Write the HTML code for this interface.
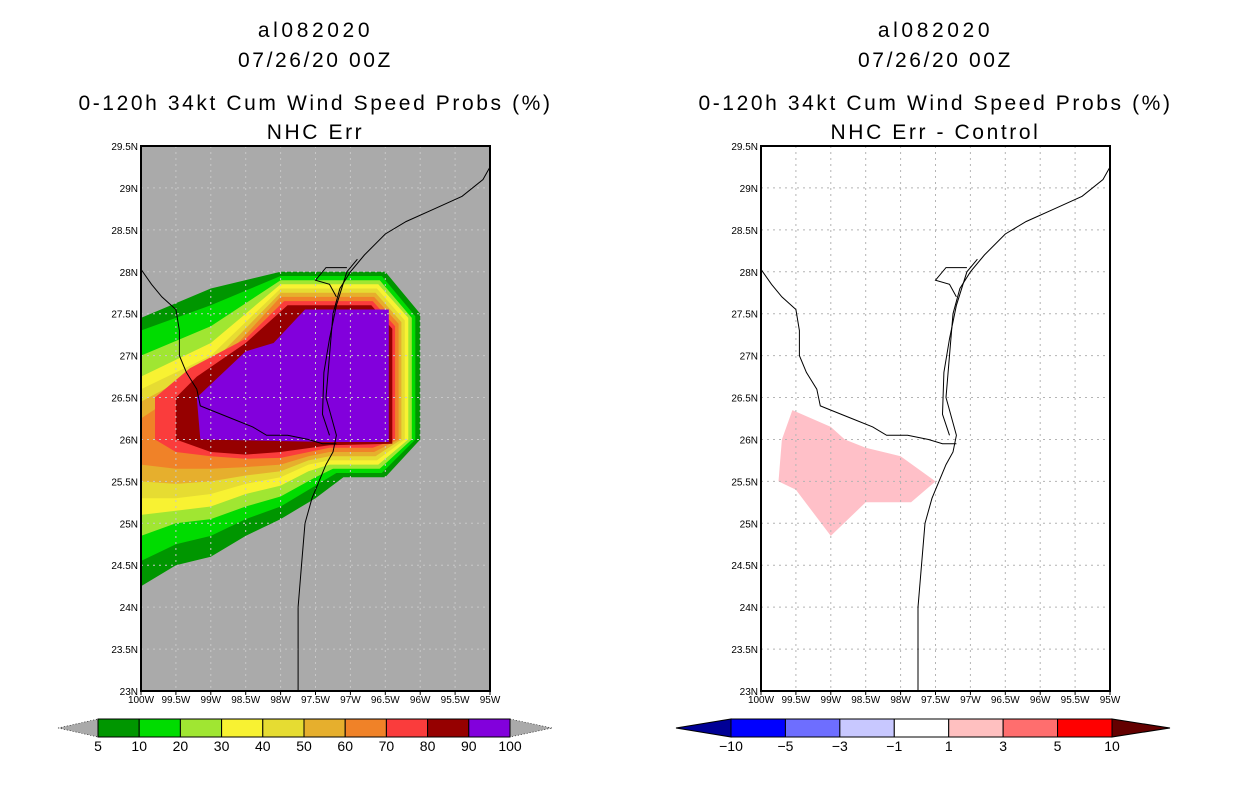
<!DOCTYPE html>
<html><head><meta charset="utf-8"><style>
body{margin:0;background:#fff;width:1236px;height:800px;overflow:hidden;font-family:"Liberation Sans",sans-serif}
svg{display:block}
</style></head><body>
<svg id="s" width="1236" height="800" font-family="Liberation Sans, sans-serif"></svg>
<script>
const levels=[5,10,20,30,40,50,60,70,80,90,100];
const levelColors=['#009600','#00dc00','#a0e632','#f8f232','#e6dc32','#e6af2d','#f08228','#fa3c3c','#960000','#8200dc'];
// contour polygons (lon W, lat N) for thresholds 5..90
const contour5=[[100,27.45],[99,27.8],[98,28.0],[96.5,28.0],[96,27.5],[96,26.0],[96.5,25.55],[97.1,25.55],[97.5,25.3],[98,25.05],[98.5,24.85],[99,24.6],[99.5,24.5],[100,24.25]];
const contour10=[[100,27.3],[99,27.6],[98,27.95],[96.55,27.95],[96.07,27.47],[96.07,26.0],[96.55,25.6],[97.2,25.6],[97.5,25.45],[98,25.2],[98.5,25.05],[99,24.85],[99.5,24.75],[100,24.55]];
const contour20=[[100,27.0],[99,27.35],[98,27.9],[96.58,27.9],[96.12,27.45],[96.12,26.0],[96.58,25.65],[97.25,25.65],[97.5,25.55],[98,25.32],[98.5,25.2],[99,25.05],[99.5,25.0],[100,24.85]];
const contour30=[[100,26.75],[99,27.15],[98,27.85],[96.6,27.85],[96.17,27.45],[96.17,26.0],[96.6,25.7],[97.3,25.7],[97.6,25.62],[98,25.45],[98.5,25.35],[99,25.2],[99.5,25.15],[100,25.1]];
const contour40=[[100,26.6],[99,27.0],[98,27.8],[96.62,27.8],[96.22,27.42],[96.22,26.0],[96.62,25.75],[97.3,25.75],[97.6,25.7],[98,25.55],[98.5,25.47],[99,25.35],[99.5,25.3],[100,25.3]];
const contour50=[[100,26.45],[99,26.9],[98,27.75],[96.64,27.75],[96.27,27.4],[96.27,26.0],[96.64,25.8],[97.3,25.8],[97.6,25.75],[98,25.62],[98.5,25.57],[99,25.5],[99.5,25.47],[100,25.5]];
const contour60=[[100,26.25],[99,26.8],[98,27.7],[96.66,27.7],[96.31,27.38],[96.31,26.0],[96.66,25.85],[97.3,25.85],[97.6,25.8],[98,25.7],[98.5,25.67],[99,25.65],[99.5,25.65],[100,25.7]];
const contour70=[[99.8,26.5],[99.3,26.85],[98.5,27.2],[97.95,27.65],[96.68,27.65],[96.36,27.35],[96.36,26.0],[96.68,25.9],[97.3,25.9],[98,25.78],[98.5,25.77],[99,25.8],[99.5,25.85],[99.8,26.0]];
const contour80=[[99.5,26.5],[99.2,26.75],[98.5,27.15],[97.9,27.6],[96.7,27.6],[96.4,27.32],[96.4,25.95],[97.3,25.93],[98,25.85],[98.5,25.82],[99.0,25.85],[99.5,26.0]];
const contour90=[[99.2,26.5],[98.5,27.05],[98.1,27.15],[97.65,27.55],[96.45,27.55],[96.45,25.97],[97.3,25.97],[99.15,26.0]];
const contours=[contour5,contour10,contour20,contour30,contour40,contour50,contour60,contour70,contour80,contour90];
const diffPoly=[[99.55,26.35],[99.0,26.15],[98.8,26.0],[98.5,25.9],[98.0,25.8],[97.5,25.5],[97.85,25.25],[98.5,25.25],[99.0,24.85],[99.5,25.4],[99.75,25.5],[99.7,26.0]];
const coast=[[95.0,29.25],[95.1,29.1],[95.4,28.9],[95.8,28.75],[96.2,28.6],[96.5,28.45],[96.8,28.2],[97.0,28.0],[97.15,27.8],[97.25,27.5],[97.3,27.0],[97.35,26.5],[97.2,26.05],[97.25,25.85],[97.35,25.7],[97.55,25.3],[97.65,25.0],[97.7,24.5],[97.75,24.0],[97.75,23.5],[97.75,23.0]];
const island=[[96.9,28.15],[97.05,28.0],[97.2,27.6],[97.3,27.2],[97.38,26.8],[97.4,26.3],[97.3,26.05]];
const bay=[[97.05,28.05],[97.35,28.05],[97.5,27.9],[97.3,27.85],[97.2,27.7]];
const border=[[100,28.03],[99.85,27.85],[99.7,27.7],[99.5,27.55],[99.45,27.3],[99.45,27.0],[99.35,26.8],[99.2,26.6],[99.15,26.4],[99.0,26.35],[98.7,26.25],[98.4,26.15],[98.2,26.05],[97.9,26.05],[97.6,26.0],[97.4,25.95],[97.2,25.95]];
const lonTicks=[100,99.5,99,98.5,98,97.5,97,96.5,96,95.5,95];
const latTicks=[23,23.5,24,24.5,25,25.5,26,26.5,27,27.5,28,28.5,29,29.5];
const diffLevels=['-10','-5','-3','-1','1','3','5','10'];
const diffColors=['#0000ff','#6e6eff','#c8c8ff','#ffffff','#ffc0c0','#ff6e6e','#ff0000'];

const NS='http://www.w3.org/2000/svg';
const svg=document.getElementById('s');
function mk(tag,attrs,parent){const e=document.createElementNS(NS,tag);for(const k in attrs)e.setAttribute(k,attrs[k]);(parent||svg).appendChild(e);return e;}
function txt(x,y,s,size,anchor,parent){const t=mk('text',{x:x,y:y,'font-size':size,'text-anchor':anchor||'middle',fill:'#000'},parent);t.textContent=s;return t;}

function panel(x0,title4,name,filled){
  const W=349,H=545,y0=146;
  const X=lon=>x0+(100-lon)/5*W;
  const Y=lat=>y0+H-(lat-23)/6.5*H;
  const pts=a=>a.map(p=>X(p[0]).toFixed(1)+','+Y(p[1]).toFixed(1)).join(' ');
  const g=mk('g',{});
  
  
  const cx=x0+W/2;
  [['al082020',37,3.6],['07/26/20 00Z',67,2.6],['0-120h 34kt Cum Wind Speed Probs (%)',110,2.6],[title4,139,2.6]].forEach((t,i)=>{
    const e=txt(cx,t[1],t[0],21,'middle',g);e.setAttribute('letter-spacing',t[2]);
    
    
  });
  const clip=mk('clipPath',{id:'c'+name},g);mk('rect',{x:x0,y:y0,width:W,height:H},clip);
  const bg=mk('rect',{x:x0,y:y0,width:W,height:H,fill:filled?'#aaaaaa':'#fff'},g);
  
  const cg=mk('g',{'clip-path':'url(#c'+name+')'},g);
  if(filled){
    contours.forEach((c,i)=>{const p=mk('polygon',{points:pts(c),fill:levelColors[i]},cg);
      });
  } else {
    const p=mk('polygon',{points:pts(diffPoly),fill:'#ffc0c8'},cg);
    
  }
  const gc=filled?'#c8c8c8':'#b4b4b4';
  lonTicks.slice(1,-1).forEach(l=>{const e=mk('line',{x1:X(l),x2:X(l),y1:y0,y2:y0+H,stroke:gc,'stroke-dasharray':'2,4'},cg);
    });
  latTicks.slice(1,-1).forEach(l=>{const e=mk('line',{x1:x0,x2:x0+W,y1:Y(l),y2:Y(l),stroke:gc,'stroke-dasharray':'2,4'},cg);
    });
  [coast,island,bay,border].forEach((c,i)=>{const e=mk('polyline',{points:pts(c),fill:'none',stroke:'#000','stroke-width':1},cg);
    });
  const fr=mk('rect',{x:x0,y:y0,width:W,height:H,fill:'none',stroke:'#000','stroke-width':2},g);
  
  lonTicks.forEach(l=>{const t=txt(X(l),703,(l%1?l.toFixed(1):l)+'W',10,'middle',g);
    
    mk('line',{x1:X(l),x2:X(l),y1:y0+H,y2:y0+H+4,stroke:'#000'},g);});
  latTicks.forEach(l=>{const t=txt(x0-3,Y(l)+4,(l%1?l.toFixed(1):l)+'N',10,'end',g);
    });
}
panel(141,'NHC Err','left',true);
panel(761,'NHC Err - Control','right',false);

// left colorbar
(function(){
  const g=mk('g',{});
  const x0=98,x1=510,y0=719,h=18,n=levelColors.length,w=(x1-x0)/n;
  mk('polygon',{points:`58,${y0+h/2} ${x0},${y0} ${x0},${y0+h}`,fill:'#aaaaaa',stroke:'#000','stroke-dasharray':'1,2','stroke-width':0.6},g);
  mk('polygon',{points:`552,${y0+h/2} ${x1},${y0} ${x1},${y0+h}`,fill:'#aaaaaa',stroke:'#000','stroke-dasharray':'1,2','stroke-width':0.6},g);
  levelColors.forEach((c,i)=>{const r=mk('rect',{x:x0+i*w,y:y0,width:w,height:h,fill:c,stroke:'#000'},g);
    });
  levels.forEach((l,i)=>{const t=txt(x0+i*w,751,String(l),14,'middle',g);
    });
})();
// right colorbar
(function(){
  const g=mk('g',{});
  const x0=731,x1=1112,y0=719,h=18,n=diffColors.length,w=(x1-x0)/n;
  mk('polygon',{points:`676,${y0+h/2} ${x0},${y0} ${x0},${y0+h}`,fill:'#000096',stroke:'#000'},g);
  mk('polygon',{points:`1170,${y0+h/2} ${x1},${y0} ${x1},${y0+h}`,fill:'#640000',stroke:'#000'},g);
  diffColors.forEach((c,i)=>{const r=mk('rect',{x:x0+i*w,y:y0,width:w,height:h,fill:c,stroke:'#000'},g);
    });
  diffLevels.forEach((l,i)=>{const t=txt(x0+i*w,751,l.replace('-','\u2212'),14,'middle',g);
    });
})();
</script>
</body></html>
